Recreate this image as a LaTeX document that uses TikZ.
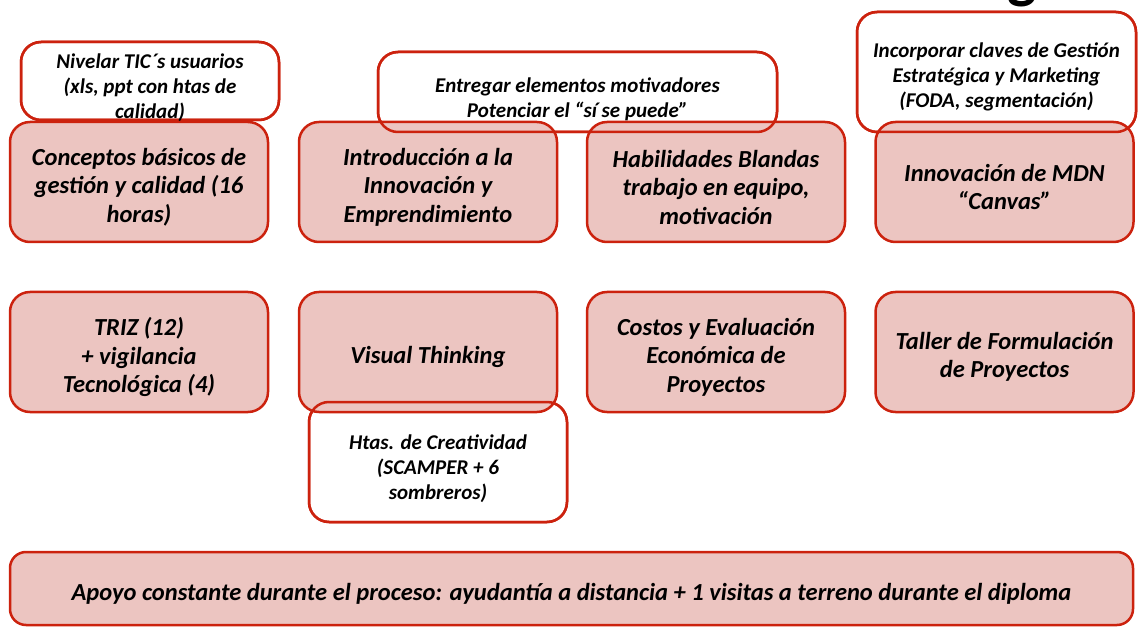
\documentclass[tikz,border=0pt]{standalone}
\usepackage{fontspec}
\setmainfont{Carlito}
\definecolor{boxred}{RGB}{204,34,14}
\definecolor{boxpink}{RGB}{236,197,193}
\begin{document}
\begin{tikzpicture}[x=1pt,y=-1pt,
  pinkbox/.style={draw=boxred,line width=2.5pt,fill=boxpink,rounded corners=20pt,
    minimum width=258pt,minimum height=120pt,inner sep=0pt,outer sep=0pt},
  bigtext/.style={align=center,inner sep=0pt,font=\fontsize{24.5}{28.5}\selectfont\bfseries\itshape},
  whitebox/.style={draw=boxred,line width=2.5pt,fill=white,rounded corners=20pt,
    inner sep=0pt,outer sep=0pt},
  smalltext/.style={align=center,inner sep=0pt,font=\fontsize{21}{25}\selectfont\bfseries\itshape},
  outlineonly/.style={draw=boxred,line width=2.5pt,rounded corners=20pt}]
\useasboundingbox (0,0) rectangle (1138,628);
\fill[white] (0,0) rectangle (1138,628);
% partial title glyph
\node[anchor=base,inner sep=0pt,font=\fontsize{62}{62}\selectfont\bfseries] (title) at (1022,-3) {g};
% white boxes (background)
\node[whitebox,minimum width=258pt,minimum height=78pt] (w1) at (150,81) {};
\node[whitebox,minimum width=399pt,minimum height=80pt] (w2) at (577.5,92) {};
\node[whitebox,minimum width=279pt,minimum height=120pt] (w3) at (996.5,72) {};
\node[whitebox,minimum width=258pt,minimum height=120pt] (w4) at (438,462) {};
% pink boxes
\node[pinkbox] (b1) at (139,182) {};
\node[pinkbox] (b2) at (428,182) {};
\node[pinkbox] (b3) at (716,182) {};
\node[pinkbox] (b4) at (1004.5,182) {};
\node[pinkbox] (c1) at (139,352) {};
\node[pinkbox] (c2) at (428,352) {};
\node[pinkbox] (c3) at (716,352) {};
\node[pinkbox] (c4) at (1004.5,352) {};
\node[pinkbox,minimum width=1123pt,minimum height=73pt,rounded corners=16pt] (d) at (571.5,588.5) {};
\node[bigtext] (b1t) at ([yshift=-5pt]b1.center) {Conceptos básicos de\\gestión y calidad (16\\horas)};
\node[bigtext] (b2t) at ([yshift=-5pt]b2.center) {Introducción a la\\Innovación y\\Emprendimiento};
\node[bigtext] (b3t) at ([yshift=-5pt]b3.center) {Habilidades Blandas\\trabajo en equipo,\\motivación};
\node[bigtext] (b4t) at ([yshift=-5pt]b4.center) {Innovación de MDN\\“Canvas”};
\node[bigtext] (c1t) at ([yshift=-5pt]c1.center) {TRIZ (12)\\+ vigilancia\\Tecnológica (4)};
\node[bigtext] (c2t) at ([yshift=-5pt]c2.center) {Visual Thinking};
\node[bigtext] (c3t) at ([yshift=-5pt]c3.center) {Costos y Evaluación\\Económica de\\Proyectos};
\node[bigtext] (c4t) at ([yshift=-5pt]c4.center) {Taller de Formulación\\de Proyectos};
\node[bigtext] (dt) at ([yshift=-5pt]d.center)
  {Apoyo constante durante el proceso: ayudantía a distancia + 1 visitas a terreno durante el diploma};
% white box outlines on top + texts
\draw[outlineonly] (w1.south west) rectangle (w1.north east);
\draw[outlineonly] (w2.south west) rectangle (w2.north east);
\draw[outlineonly] (w3.south west) rectangle (w3.north east);
\draw[outlineonly] (w4.south west) rectangle (w4.north east);
\node[smalltext] (t1) at (150,88) {Nivelar TIC´s usuarios\\(xls, ppt con htas de\\calidad)};
\node[smalltext] (t2) at (577.5,99) {Entregar elementos motivadores\\Potenciar el “sí se puede”};
\node[smalltext] (t3) at (996.5,77) {Incorporar claves de Gestión\\Estratégica y Marketing\\(FODA, segmentación)};
\node[smalltext] (t4) at (438,469) {Htas. de Creatividad\\(SCAMPER + 6\\sombreros)};
\end{tikzpicture}
\end{document}
